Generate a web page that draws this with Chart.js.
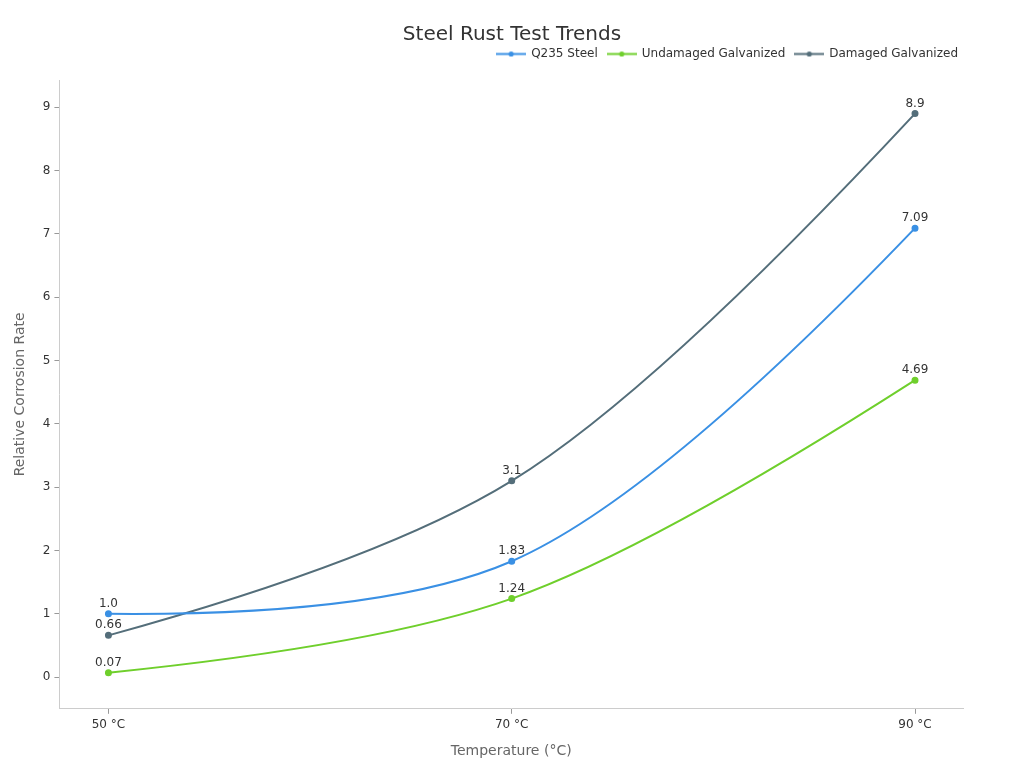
<!DOCTYPE html>
<html>
<head>
<meta charset="utf-8">
<script src="https://cdn.jsdelivr.net/npm/chart.js@4.4.1/dist/chart.umd.min.js"></script>
<style>
html,body{margin:0;padding:0;background:#fff;}
#wrap{width:1024px;height:768px;position:relative;}
</style>
</head>
<body>
<div id="wrap"><canvas id="c" width="1024" height="768"></canvas></div>
<script>
const temperatures = [50, 70, 90];
const tickLabels = ["50 °C", "70 °C", "90 °C"];
const q235Steel = [1.0, 1.83, 7.09];
const undamagedGalvanized = [0.07, 1.24, 4.69];
const damagedGalvanized = [0.66, 3.1, 8.9];
const q235Labels = ["1.0", "1.83", "7.09"];
const undamagedLabels = ["0.07", "1.24", "4.69"];
const damagedLabels = ["0.66", "3.1", "8.9"];
const seriesNames = ["Q235 Steel", "Undamaged Galvanized", "Damaged Galvanized"];
const yTicks = [0,1,2,3,4,5,6,7,8,9];

const colors = ["#3a90e4", "#6fcf2c", "#546e7a"];
const FONT = "'DejaVu Sans', sans-serif";

function pts(vals){ return vals.map((v,i)=>({x:temperatures[i], y:v})); }

function legendIcon(col){
  const c = document.createElement('canvas');
  c.width = 30; c.height = 7;
  const g = c.getContext('2d');
  g.strokeStyle = col; g.lineWidth = 2;
  g.beginPath(); g.moveTo(0, 3.5); g.lineTo(30, 3.5); g.stroke();
  g.fillStyle = col;
  g.beginPath(); g.arc(15, 3.5, 2.6, 0, Math.PI*2); g.fill();
  return c;
}
const legendIcons = colors.map(legendIcon);

const labelPlugin = {
  id:'valueLabels',
  afterDatasetsDraw(chart){
    const ctx = chart.ctx;
    const texts = [q235Labels, undamagedLabels, damagedLabels];
    ctx.save();
    ctx.font = "12px " + FONT;
    ctx.fillStyle = "#333";
    ctx.textAlign = "center";
    ctx.textBaseline = "bottom";
    chart.data.datasets.forEach((ds, di)=>{
      const meta = chart.getDatasetMeta(di);
      meta.data.forEach((el, i)=>{
        ctx.fillText(texts[di][i], el.x, el.y - 4);
      });
    });
    ctx.restore();
  }
};

// centripetal Catmull-Rom style spline: quadratic end segments, cubic inside
function tangent(p0, p1, p2, s){
  const d1x = p0.x - p1.x, d1y = p0.y - p1.y;
  const d2x = p2.x - p1.x, d2y = p2.y - p1.y;
  const d1a = Math.pow(d1x*d1x + d1y*d1y, 0.25);
  const d2a = Math.pow(d2x*d2x + d2y*d2y, 0.25);
  const nx = (d2a*d2a*d1x - d1a*d1a*d2x) * s;
  const ny = (d2a*d2a*d1y - d1a*d1a*d2y) * s;
  const den1 = 3*d2a*(d1a+d2a), den2 = 3*d1a*(d1a+d2a);
  return [
    {x: p1.x + (den1 ? nx/den1 : 0), y: p1.y + (den1 ? ny/den1 : 0)},
    {x: p1.x - (den2 ? nx/den2 : 0), y: p1.y - (den2 ? ny/den2 : 0)}
  ];
}
const splinePlugin = {
  id:'spline',
  beforeDatasetDraw(chart, args){
    const meta = args.meta;
    const line = meta.dataset;
    if (!line || !line.updateControlPoints) return;
    line.updateControlPoints(chart.chartArea, 'x');
    const p = meta.data, n = p.length;
    if (n < 3) return;
    const tg = [];
    for (let i = 1; i < n-1; i++) tg.push(tangent(p[i-1], p[i], p[i+1], 1));
    const q0 = tg[0][0];
    p[0].cp2x = p[0].x + 2/3*(q0.x - p[0].x); p[0].cp2y = p[0].y + 2/3*(q0.y - p[0].y);
    p[1].cp1x = p[1].x + 2/3*(q0.x - p[1].x); p[1].cp1y = p[1].y + 2/3*(q0.y - p[1].y);
    for (let i = 2; i < n-1; i++) {
      p[i-1].cp2x = tg[i-2][1].x; p[i-1].cp2y = tg[i-2][1].y;
      p[i].cp1x = tg[i-1][0].x; p[i].cp1y = tg[i-1][0].y;
    }
    const qe = tg[n-3][1];
    p[n-2].cp2x = p[n-2].x + 2/3*(qe.x - p[n-2].x); p[n-2].cp2y = p[n-2].y + 2/3*(qe.y - p[n-2].y);
    p[n-1].cp1x = p[n-1].x + 2/3*(qe.x - p[n-1].x); p[n-1].cp1y = p[n-1].y + 2/3*(qe.y - p[n-1].y);
  }
};

const legendSpacer = {
  id:'legendSpacer',
  beforeUpdate(chart){
    const lg = chart.legend;
    if (lg && !lg._patched) {
      const fit = lg.fit;
      lg.fit = function(){ fit.call(this); this.height += 10; };
      lg._patched = true;
    }
  },
  afterLayout(chart){
    const lg = chart.legend;
    if (lg) { lg.left += 5; lg.right += 5; }
  }
};

const mk = (name, data, col) => ({
  label: name,
  data: pts(data),
  borderColor: col,
  backgroundColor: col,
  borderWidth: 2,
  pointRadius: 2.5,
  pointHoverRadius: 3,
  tension: 0.4,
  fill: false
});

new Chart(document.getElementById('c'), {
  type: 'line',
  data: {
    datasets: [
      mk(seriesNames[0], q235Steel, colors[0]),
      mk(seriesNames[1], undamagedGalvanized, colors[1]),
      mk(seriesNames[2], damagedGalvanized, colors[2])
    ]
  },
  options: {
    responsive: false,
    animation: false,
    layout: { padding: { left: 6, right: 6, top: 10, bottom: 4 } },
    plugins: {
      title: {
        display: true,
        text: "Steel Rust Test Trends",
        color: "#333",
        font: { family: FONT, size: 20, weight: 'normal', lineHeight: 1 },
        padding: { top: 15, bottom: -7 }
      },
      legend: {
        display: true,
        align: 'end',
        fullSize: false,
        labels: {
          font: { family: FONT, size: 12 },
          color: "#333",
          usePointStyle: true,
          pointStyleWidth: 28,
          padding: 10,
          generateLabels(chart){
            const items = Chart.defaults.plugins.legend.labels.generateLabels(chart);
            items.forEach((it, i) => { it.pointStyle = legendIcons[i]; });
            return items;
          }
        }
      },
      tooltip: { enabled: false }
    },
    scales: {
      x: {
        type: 'linear',
        min: 47.57,
        max: 92.38,
        afterBuildTicks(scale){ scale.ticks = temperatures.map(v=>({value:v})); },
        ticks: {
          color: "#333",
          font: { family: FONT, size: 12 },
          callback(v){ const i = temperatures.indexOf(v); return i>=0 ? tickLabels[i] : ''; },
          padding: 4
        },
        grid: { display: true, drawOnChartArea: false, tickLength: 5, color: "#999" },
        border: { display: true, color: "#ccc" },
        title: { display: true, text: "Temperature (°C)", color: "#666", font: { family: FONT, size: 14 }, padding: { top: 7 } }
      },
      y: {
        min: -0.5,
        max: 9.43,
        afterBuildTicks(scale){ scale.ticks = yTicks.map(v=>({value:v})); },
        ticks: {
          color: "#333",
          font: { family: FONT, size: 12 },
          padding: 4
        },
        grid: { display: true, drawOnChartArea: false, tickLength: 5, color: "#999" },
        border: { display: true, color: "#ccc" },
        title: { display: true, text: "Relative Corrosion Rate", color: "#666", font: { family: FONT, size: 14 }, padding: { top: 6, bottom: 10 } }
      },
      ySpacer: {
        position: 'right',
        display: true,
        afterFit(scale){ scale.width = 55; },
        ticks: { display: false },
        grid: { display: false },
        border: { display: false }
      }
    }
  },
  plugins: [legendSpacer, splinePlugin, labelPlugin]
});
</script>
</body>
</html>
